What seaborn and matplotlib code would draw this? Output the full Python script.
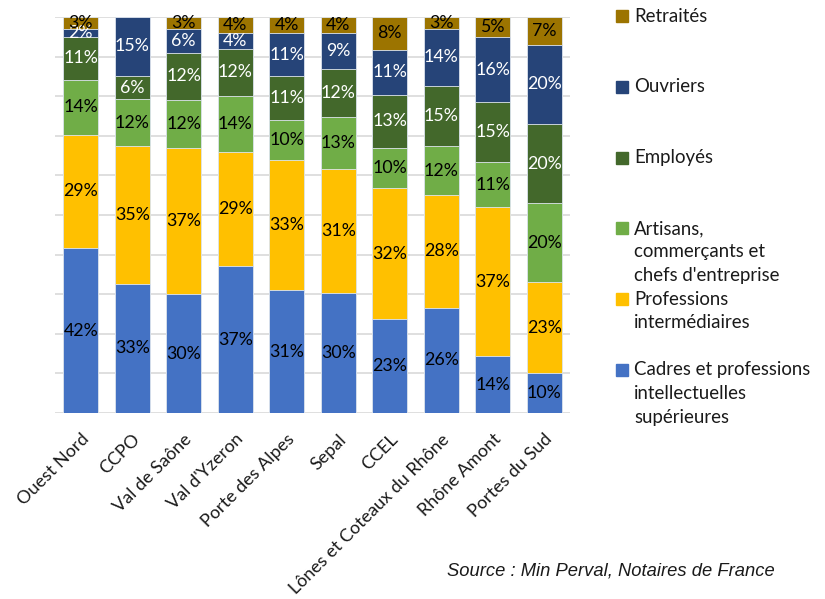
import matplotlib
matplotlib.use("Agg")
import matplotlib.pyplot as plt
from matplotlib.patches import Rectangle
import numpy as np
import pandas as pd
import seaborn as sns

# Territoires
territoires = ["Ouest Nord", "CCPO", "Val de Saône", "Val d'Yzeron", "Porte des Alpes",
               "Sepal", "CCEL", "Lônes et Coteaux du Rhône", "Rhône Amont", "Portes du Sud"]

# Répartition des acquéreurs par catégorie socio-professionnelle (%)
cadres = [42, 33, 30, 37, 31, 30, 23, 26, 14, 10]
prof_inter = [29, 35, 37, 29, 33, 31, 32, 28, 37, 23]
artisans = [14, 12, 12, 14, 10, 13, 10, 12, 11, 20]
employes = [11, 6, 12, 12, 11, 12, 13, 15, 15, 20]
ouvriers = [2, 15, 6, 4, 11, 9, 11, 14, 16, 20]
retraites = [3, 0, 3, 4, 4, 4, 8, 3, 5, 7]

categories = ["Cadres et professions\nintellectuelles\nsupérieures",
              "Professions\nintermédiaires",
              "Artisans,\ncommerçants et\nchefs d'entreprise",
              "Employés", "Ouvriers", "Retraités"]
couleurs = ["#4472C4", "#FFC000", "#70AD47", "#43682B", "#264478", "#9C7400"]
couleurs_texte = ["black", "black", "black", "white", "white", "black"]

series = [cadres, prof_inter, artisans, employes, ouvriers, retraites]

sns.set_theme(style="white")
plt.rcParams["font.family"] = ["Lato", "DejaVu Sans"]

W, H = 825, 599
fig = plt.figure(figsize=(W / 100, H / 100), dpi=100)
ax = fig.add_axes([55 / W, 1 - 413 / H, (570 - 55) / W, (413 - 17) / H])

vals = np.array(series, dtype=float)          # shape (6, 10)
parts = vals / vals.sum(axis=0) * 100           # 100 % stacked
cum = np.cumsum(parts, axis=0)

# Empilement : on trace les cumuls du plus haut au plus bas
for i in range(len(series) - 1, -1, -1):
    df = pd.DataFrame({"territoire": territoires, "cumul": cum[i]})
    sns.barplot(data=df, x="territoire", y="cumul", order=territoires, color=couleurs[i],
                saturation=1, width=0.68, errorbar=None, ax=ax,
                edgecolor="#dfe6f0", linewidth=0.6, zorder=2)

# Étiquettes de valeurs au centre de chaque segment
for i in range(len(series)):
    for j in range(len(territoires)):
        v = series[i][j]
        if v <= 0:
            continue
        y = cum[i, j] - parts[i, j] / 2
        ax.text(j, y, f"{v}%", ha="center", va="center", fontsize=12.8,
                color=couleurs_texte[i], zorder=5)

ax.set_xlim(-0.5, len(territoires) - 0.5)
ax.set_ylim(0, 100)
ax.set_yticks(np.arange(0, 101, 10))
ax.set_yticklabels([])
ax.tick_params(axis="y", length=0)
ax.grid(axis="y", color="#d9d9d9", linewidth=1.2, zorder=0)
ax.set_axisbelow(True)
for s in ax.spines.values():
    s.set_visible(False)
ax.set_xlabel("")
ax.set_ylabel("")
ax.tick_params(axis="x", length=0, pad=13)
ax.set_xticks(range(len(territoires)))
ax.set_xticklabels(territoires, rotation=45, ha="right", rotation_mode="anchor",
                   fontsize=13, color="#1a1a1a")

# Légende
pas = 70.8
ligne = 23.5
for k, idx in enumerate(range(len(categories) - 1, -1, -1)):
    y0 = 16 + k * pas
    fig.patches.append(Rectangle((616 / W, 1 - (y0 + 6) / H), 12 / W, 12 / H,
                                 transform=fig.transFigure, color=couleurs[idx]))
    for n, txt in enumerate(categories[idx].split("\n")):
        fig.text(634 / W, 1 - (y0 + n * ligne) / H, txt, ha="left", va="center",
                 fontsize=13.4, color="#1a1a1a")

fig.text(775 / W, 1 - 571 / H, "Source : Min Perval, Notaires de France",
         ha="right", va="center", fontsize=13.2, style="italic",
         family=["Liberation Sans", "DejaVu Sans"], color="#1a1a1a")

fig.savefig("out.png", dpi=100)
